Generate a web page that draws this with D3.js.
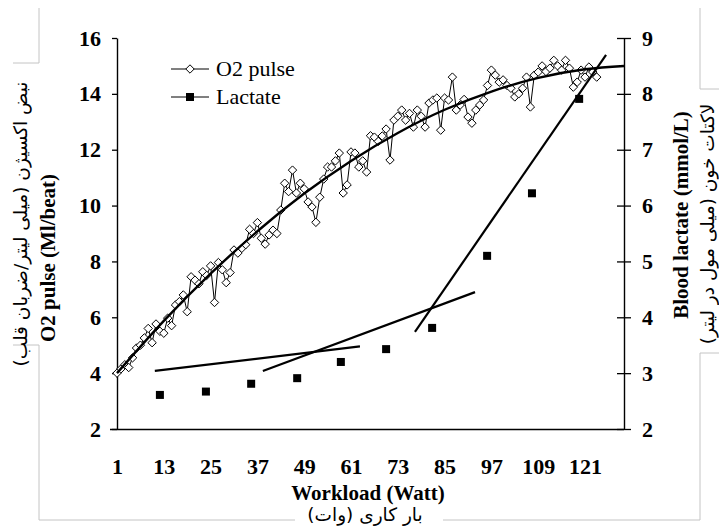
<!DOCTYPE html>
<html><head><meta charset="utf-8">
<script src="https://cdn.jsdelivr.net/npm/d3@7"></script>
<style>body{margin:0;background:#fff}svg{display:block}</style>
</head><body>
<svg id="c" width="719" height="527"></svg>
<script>
// ---- data ----
const o2Pulse = [4.0,4.15,4.3,4.2,4.55,4.9,5.0,5.26,5.6,5.09,5.76,5.5,5.43,5.97,5.7,6.44,6.56,6.8,6.2,7.45,
  7.33,7.2,7.63,7.5,7.84,6.53,7.96,7.7,7.24,7.6,8.41,8.3,8.47,8.6,9.15,9.0,9.39,8.83,8.62,8.95,
  9.12,9.0,9.84,10.8,10.5,11.27,10.45,10.8,10.6,10.13,9.95,9.4,10.3,10.95,11.38,11.38,11.6,11.88,10.45,10.74,
  11.92,11.88,11.38,11.6,11.2,12.5,12.45,12.3,12.49,12.74,11.63,13.06,13.2,13.42,13.06,13.3,12.81,13.42,13.2,12.81,
  13.67,13.78,13.85,12.7,13.85,13.78,14.6,13.42,13.6,13.8,13.17,12.95,13.42,13.6,13.78,14.3,14.85,14.67,14.42,14.5,
  14.3,14.2,13.89,14.0,14.2,14.6,13.53,14.67,14.78,15.0,14.8,14.92,15.2,15.0,14.85,15.2,14.92,14.24,14.42,14.85,
  14.6,14.96,14.78,14.6];
const o2TrendWorkload = [1,13,25,37,49,61,73,85,97,109,121,131];
const o2TrendValues   = [4.0,5.87,7.56,9.08,10.43,11.6,12.6,13.43,14.08,14.57,14.88,15.0];
const lactateWorkload = [12,23.8,35.4,47.2,58.4,70,81.8,95.9,107.4,119.5];
const lactateValues   = [2.61,2.67,2.81,2.91,3.2,3.43,3.81,5.1,6.22,7.91];
const lactateFitA = [[10.7,3.04],[63.3,3.48]];
const lactateFitB = [[38.4,3.04],[92.8,4.45]];
const lactateFitC = [[77.4,3.74],[126.4,8.70]];
const xTicks = [1,13,25,37,49,61,73,85,97,109,121];
const leftTicks = [2,4,6,8,10,12,14,16];
const rightTicks = [2,3,4,5,6,7,8,9];

// ---- chart ----
const svg = d3.select('#c');
const serif = '"Liberation Serif","Times New Roman",serif';
const arab = '"DejaVu Sans",sans-serif';
const x  = d3.scaleLinear().domain([1,131]).range([117,624]);
const yL = d3.scaleLinear().domain([2,16]).range([429,38]);
const yR = d3.scaleLinear().domain([2,9]).range([429,38]);

// faint frame lines from the source
const frame = svg.append('g').attr('fill','none').attr('stroke','#c4c4c4').attr('stroke-width',1);
frame.append('path').attr('d','M39,8V63H13');
frame.append('path').attr('d','M13,345H39V520H295');
frame.append('path').attr('d','M443,520H700V353H719');
frame.append('path').attr('d','M700,8V89H719');

// axes
const gl = svg.append('g').attr('transform','translate(117,0)')
  .call(d3.axisLeft(yL).tickValues(leftTicks).tickFormat(d3.format('d')).tickSize(5).tickPadding(11).tickSizeOuter(0));
const gr = svg.append('g').attr('transform','translate(624,0)')
  .call(d3.axisRight(yR).tickValues(rightTicks).tickFormat(d3.format('d')).tickSize(7).tickPadding(11).tickSizeOuter(0));
gr.selectAll('.tick line').attr('x1',-7);
const gx = svg.append('g').attr('transform','translate(0,429)')
  .call(d3.axisBottom(x).tickValues(xTicks).tickFormat(d3.format('d')).tickSize(0).tickPadding(29).tickSizeOuter(0));
gx.select('.domain').attr('d','M110,0.5H624');
[gl,gr,gx].forEach(g=>{
  g.attr('font-family',serif).attr('font-size',22);
  g.select('.domain').attr('stroke','#000').attr('stroke-width',1.4);
  g.selectAll('.tick line').attr('stroke','#000').attr('stroke-width',1.3);
  g.selectAll('.tick text').attr('font-family',serif).attr('font-size',22)
    .attr('font-weight','bold').attr('fill','#000');
});

// O2 pulse series
const diamond = 'M0,-4.2L4.2,0L0,4.2L-4.2,0Z';
svg.append('path').datum(o2Pulse)
  .attr('fill','none').attr('stroke','#000').attr('stroke-width',1)
  .attr('d', d3.line().x((d,i)=>x(i+1)).y(d=>yL(d)));
svg.append('g').selectAll('path').data(o2Pulse).join('path')
  .attr('d',diamond).attr('transform',(d,i)=>`translate(${x(i+1)},${yL(d)})`)
  .attr('fill','#fff').attr('stroke','#000').attr('stroke-width',1);

// O2 trend
svg.append('path').datum(d3.zip(o2TrendWorkload,o2TrendValues))
  .attr('fill','none').attr('stroke','#000').attr('stroke-width',2.4)
  .attr('d', d3.line().x(d=>x(d[0])).y(d=>yL(d[1])).curve(d3.curveNatural));

// Lactate
svg.append('g').selectAll('rect').data(d3.zip(lactateWorkload,lactateValues)).join('rect')
  .attr('x',d=>x(d[0])-4).attr('y',d=>yR(d[1])-4).attr('width',8).attr('height',8).attr('fill','#000');
[lactateFitA,lactateFitB,lactateFitC].forEach(f=>{
  svg.append('path').datum(f).attr('fill','none').attr('stroke','#000').attr('stroke-width',2.2)
    .attr('d', d3.line().x(d=>x(d[0])).y(d=>yR(d[1])));
});

// legend
const lg = svg.append('g');
lg.append('line').attr('x1',171).attr('x2',209).attr('y1',69).attr('y2',69).attr('stroke','#000').attr('stroke-width',1);
lg.append('path').attr('d',diamond).attr('transform','translate(190,69)').attr('fill','#fff').attr('stroke','#000');
lg.append('text').attr('x',216).attr('y',76).text('O2 pulse');
lg.append('line').attr('x1',171).attr('x2',209).attr('y1',97).attr('y2',97).attr('stroke','#000').attr('stroke-width',1);
lg.append('rect').attr('x',186).attr('y',93).attr('width',8).attr('height',8).attr('fill','#000');
lg.append('text').attr('x',216).attr('y',104).text('Lactate');
lg.selectAll('text').attr('font-family',serif).attr('font-size',22).attr('fill','#000');

// axis titles
svg.append('text').attr('x',368).attr('y',500).attr('text-anchor','middle')
  .attr('font-family',serif).attr('font-size',21).attr('font-weight','bold').text('Workload (Watt)');
svg.append('text').attr('x',365).attr('y',521).attr('text-anchor','middle').attr('direction','rtl')
  .attr('font-family',arab).attr('font-size',18.5).text('بار کاری (وات)');
svg.append('text').attr('transform','translate(55,258) rotate(-90)').attr('text-anchor','middle')
  .attr('font-family',serif).attr('font-size',21).attr('font-weight','bold').text('O2 pulse (Ml/beat)');
svg.append('text').attr('transform','translate(27,224) rotate(-90)').attr('text-anchor','middle').attr('direction','rtl')
  .attr('font-family',arab).attr('font-size',18.5).text('نبض اکسیژن (میلی لیتر/ضربان قلب)');
svg.append('text').attr('transform','translate(688,215) rotate(-90)').attr('text-anchor','middle')
  .attr('font-family',serif).attr('font-size',21).attr('font-weight','bold').text('Blood lactate (mmol/L)');
svg.append('text').attr('transform','translate(714,224) rotate(-90)').attr('text-anchor','middle').attr('direction','rtl')
  .attr('font-family',arab).attr('font-size',18.5).text('لاکتات خون (میلی مول در لیتر)');
</script>
</body></html>
